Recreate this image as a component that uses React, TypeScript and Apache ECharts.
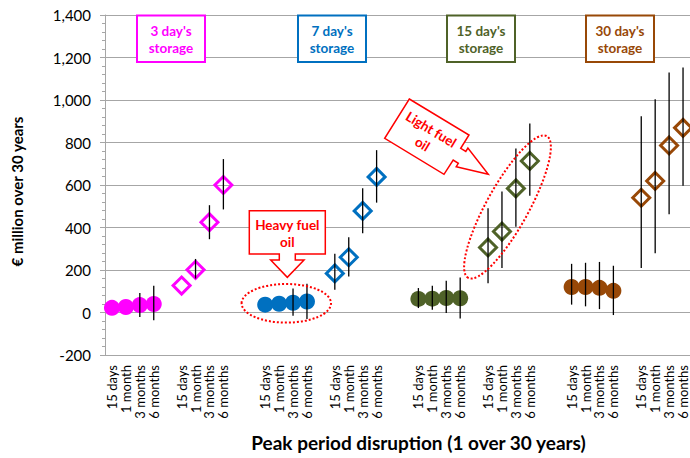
import React, { useEffect, useRef } from 'react';
import * as echarts from 'echarts';

// ---------- data ----------
const periods = ['15 days', '1 month', '3 months', '6 months'];
const storageNames = ["3 day's\nstorage", "7 day's\nstorage", "15 day's\nstorage", "30 day's\nstorage"];
const storageColors = ['#FF00FF', '#0070C0', '#4F6228', '#984807'];

// Heavy fuel oil (filled circles): central value, lower and upper bound
const heavy3Mid = [22, 26, 35, 40];
const heavy3Low = [22, 26, -21, -37];
const heavy3High = [22, 26, 92, 126];
const heavy7Mid = [37, 41, 46, 52];
const heavy7Low = [37, 41, -15, -31];
const heavy7High = [37, 41, 113, 135];
const heavy15Mid = [64, 65, 68, 67];
const heavy15Low = [21, 13, -2, -28];
const heavy15High = [115, 126, 149, 165];
const heavy30Mid = [120, 120, 116, 102];
const heavy30Low = [37, 29, 16, -12];
const heavy30High = [229, 234, 238, 220];

// Light fuel oil (hollow diamonds)
const light3Mid = [127, 201, 425, 600];
const light3Low = [127, 160, 345, 485];
const light3High = [127, 252, 505, 722];
const light7Mid = [184, 260, 478, 638];
const light7Low = [107, 170, 373, 517];
const light7High = [276, 354, 585, 764];
const light15Mid = [306, 381, 584, 713];
const light15Low = [138, 209, 404, 550];
const light15High = [491, 569, 772, 890];
const light30Mid = [540, 619, 786, 869];
const light30Low = [209, 279, 462, 597];
const light30High = [924, 1004, 1130, 1153];

const yTicks = { min: -200, max: 1400, interval: 200 };

const heavyMid = [heavy3Mid, heavy7Mid, heavy15Mid, heavy30Mid];
const heavyLow = [heavy3Low, heavy7Low, heavy15Low, heavy30Low];
const heavyHigh = [heavy3High, heavy7High, heavy15High, heavy30High];
const lightMid = [light3Mid, light7Mid, light15Mid, light30Mid];
const lightLow = [light3Low, light7Low, light15Low, light30Low];
const lightHigh = [light3High, light7High, light15High, light30High];

// empty category slots after each block of four
const gapsAfterBlock = [1, 2, 1, 2, 1, 2, 1];

export default function App() {
  const ref = useRef<HTMLDivElement>(null);
  useEffect(() => {
    if (!ref.current) return;
    const chart = echarts.init(ref.current, undefined, { renderer: 'svg' });

    const starts: number[] = [];
    const cats: string[] = [];
    for (let b = 0; b < 8; b++) {
      starts.push(cats.length);
      periods.forEach((p) => cats.push(p));
      if (b < 7) for (let k = 0; k < gapsAfterBlock[b]; k++) cats.push('');
    }

    const font = 'Lato, "Open Sans", sans-serif';
    const series: any[] = [];
    const errData: number[][] = [];
    for (let g = 0; g < 4; g++) {
      const hs = starts[2 * g];
      const ls = starts[2 * g + 1];
      series.push({
        type: 'scatter',
        name: 'heavy' + g,
        symbol: 'circle',
        symbolSize: 16,
        itemStyle: { color: storageColors[g], opacity: 1 },
        data: heavyMid[g].map((v, i) => [hs + i, v]),
        z: 3,
      });
      series.push({
        type: 'scatter',
        name: 'light' + g,
        symbol: 'diamond',
        symbolSize: 17,
        itemStyle: { color: 'rgba(255,255,255,0)', borderColor: storageColors[g], borderWidth: 3, opacity: 1 },
        data: lightMid[g].map((v, i) => [ls + i, v]),
        z: 3,
      });
      heavyMid[g].forEach((_, i) => {
        if (heavyHigh[g][i] > heavyLow[g][i]) errData.push([hs + i, heavyLow[g][i], heavyHigh[g][i]]);
      });
      lightMid[g].forEach((_, i) => {
        if (lightHigh[g][i] > lightLow[g][i]) errData.push([ls + i, lightLow[g][i], lightHigh[g][i]]);
      });
    }
    series.push({
      type: 'custom',
      name: 'error',
      data: errData,
      encode: { x: 0, y: [1, 2] },
      z: 5,
      renderItem: (params: any, api: any) => {
        const x = api.value(0);
        const p1 = api.coord([x, api.value(1)]);
        const p2 = api.coord([x, api.value(2)]);
        return {
          type: 'line',
          shape: { x1: p1[0], y1: p1[1], x2: p2[0], y2: p2[1] },
          style: { stroke: '#000', lineWidth: 1.3 },
        };
      },
    });

    const boxX = [137, 298, 447, 586];
    const graphics: any[] = [];
    boxX.forEach((bx, g) => {
      graphics.push({
        type: 'rect',
        z: 100,
        shape: { x: bx, y: 15.5, width: 68, height: 46.5 },
        style: { fill: '#fff', stroke: storageColors[g], lineWidth: 2 },
      });
      graphics.push({
        type: 'text',
        z: 101,
        x: bx + 34,
        y: 39,
        style: {
          text: storageNames[g],
          fill: storageColors[g],
          font: 'bold 13.5px ' + font,
          align: 'center',
          verticalAlign: 'middle',
          lineHeight: 17,
        },
      });
    });

    // Heavy fuel oil callout
    graphics.push({
      type: 'polygon',
      z: 100,
      shape: {
        points: [
          [249.3, 210.7], [325.3, 210.7], [325.3, 254], [295.3, 254], [295.3, 260], [304, 260],
          [287.3, 277.3], [270.7, 260], [279.3, 260], [279.3, 254], [249.3, 254],
        ],
      },
      style: { fill: '#fff', stroke: '#FF0000', lineWidth: 1.5 },
    });
    graphics.push({
      type: 'text',
      z: 101,
      x: 287.3,
      y: 233,
      style: {
        text: 'Heavy fuel\noil',
        fill: '#FF0000',
        font: 'bold 13.5px ' + font,
        align: 'center',
        verticalAlign: 'middle',
        lineHeight: 17,
      },
    });
    graphics.push({
      type: 'ellipse',
      z: 100,
      shape: { cx: 286.3, cy: 303.3, rx: 44.7, ry: 19.3 },
      style: { fill: 'none', stroke: '#FF0000', lineWidth: 2, lineDash: [2, 2] },
    });

    // Light fuel oil callout
    graphics.push({
      type: 'polygon',
      z: 100,
      shape: {
        points: [
          [409.3, 99], [469, 135], [460.7, 148.3], [465.8, 151.5], [467.9, 148.1],
          [488.3, 174.3], [456.2, 166.7], [458.3, 163.3], [453.2, 160.1], [444, 174.3], [384.7, 138.3],
        ],
      },
      style: { fill: '#fff', stroke: '#FF0000', lineWidth: 1.5 },
    });
    graphics.push({
      type: 'text',
      z: 101,
      x: 426.8,
      y: 136.7,
      rotation: (-31 * Math.PI) / 180,
      style: {
        text: 'Light fuel\noil',
        fill: '#FF0000',
        font: 'bold 13.5px ' + font,
        align: 'center',
        verticalAlign: 'middle',
        lineHeight: 17,
      },
    });
    graphics.push({
      type: 'ellipse',
      z: 100,
      x: 507.5,
      y: 207,
      rotation: (61 * Math.PI) / 180,
      shape: { cx: 0, cy: 0, rx: 81, ry: 21 },
      style: { fill: 'none', stroke: '#FF0000', lineWidth: 2, lineDash: [2, 2] },
    });

    // Axis titles
    graphics.push({
      type: 'text',
      z: 101,
      x: 17,
      y: 191.5,
      rotation: Math.PI / 2,
      style: {
        text: '€ million over 30 years',
        fill: '#000',
        font: 'bold 15px ' + font,
        align: 'center',
        verticalAlign: 'middle',
      },
    });
    graphics.push({
      type: 'text',
      z: 101,
      x: 418.5,
      y: 442,
      style: {
        text: 'Peak period disruption (1 over 30 years)',
        fill: '#000',
        font: 'bold 19px ' + font,
        align: 'center',
        verticalAlign: 'middle',
      },
    });

    chart.setOption({
      animation: false,
      backgroundColor: '#fff',
      grid: { left: 105, right: 0, top: 15, bottom: 103, containLabel: false },
      xAxis: {
        type: 'category',
        data: cats,
        boundaryGap: true,
        axisLine: { show: true, onZero: false, lineStyle: { color: '#A6A6A6', width: 1 } },
        axisTick: { show: false },
        splitLine: { show: false },
        axisLabel: {
          interval: 0,
          rotate: 90,
          margin: 10,
          fontSize: 13,
          fontFamily: font,
          color: '#000',
        },
      },
      yAxis: {
        type: 'value',
        min: yTicks.min,
        max: yTicks.max,
        interval: yTicks.interval,
        axisLine: { show: true, lineStyle: { color: '#A6A6A6', width: 1 } },
        axisTick: { show: true, inside: false, length: 5, lineStyle: { color: '#A6A6A6' } },
        minorTick: { show: true, splitNumber: 5, length: 3, lineStyle: { color: '#A6A6A6' } },
        splitLine: { show: true, lineStyle: { color: '#A6A6A6', width: 1 } },
        axisLabel: {
          margin: 14,
          fontSize: 15,
          fontFamily: font,
          color: '#000',
          formatter: (v: number) => v.toLocaleString('en-US'),
        },
      },
      series,
      graphic: graphics,
    });
    return () => chart.dispose();
  }, []);
  return (
    <div
      ref={ref}
      style={{ position: 'absolute', left: 0, top: 0, width: 690, height: 458 }}
    />
  );
}
